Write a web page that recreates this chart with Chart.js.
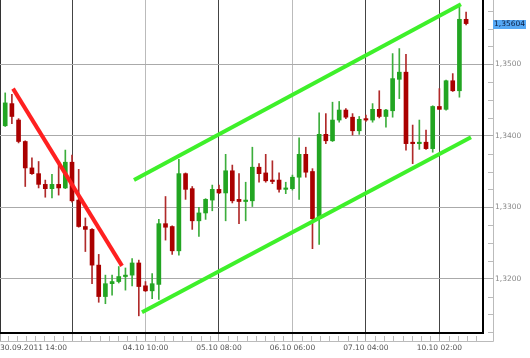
<!DOCTYPE html>
<html>
<head>
<meta charset="utf-8">
<script src="https://cdn.jsdelivr.net/npm/chart.js@4.4.1/dist/chart.umd.min.js"></script>
<style>
  html, body { margin: 0; padding: 0; background: #fff; }
  #wrap { width: 530px; height: 358px; }
</style>
</head>
<body>
<div id="wrap"><canvas id="chart"></canvas></div>
<script>
// 2h candles, index 0..69
const opens = [
  1.3414, 1.3445, 1.3422, 1.3392, 1.3355, 1.3347, 1.3332, 1.3326, 1.3332, 1.3327,
  1.3363, 1.3310, 1.3273, 1.3269, 1.3219, 1.3175, 1.3193, 1.3196, 1.3203, 1.3205,
  1.3222, 1.3190, 1.3183, 1.3192, 1.3277, 1.3273, 1.3239, 1.3347, 1.3326, 1.3281,
  1.3292, 1.3310, 1.3325, 1.3320, 1.3351, 1.3311, 1.3308, 1.3309, 1.3356, 1.3348,
  1.3338, 1.3338, 1.3325, 1.3326, 1.3342, 1.3374, 1.3350, 1.3284, 1.3402, 1.3393,
  1.3422, 1.3436, 1.3426, 1.3407, 1.3424, 1.3422, 1.3437, 1.3427, 1.3435, 1.3479,
  1.3489, 1.3391, 1.3389, 1.3391, 1.3382, 1.3441, 1.3437, 1.3477, 1.3463, 1.3563
];
const highs = [
  1.3460, 1.3458, 1.3424, 1.3393, 1.3369, 1.3364, 1.3338, 1.3346, 1.3362, 1.3380,
  1.3373, 1.3353, 1.3285, 1.3270, 1.3234, 1.3205, 1.3205, 1.3217, 1.3215, 1.3228,
  1.3226, 1.3196, 1.3207, 1.3283, 1.3315, 1.3274, 1.3367, 1.3348, 1.3329, 1.3300,
  1.3312, 1.3331, 1.3331, 1.3374, 1.3359, 1.3347, 1.3335, 1.3384, 1.3361, 1.3374,
  1.3365, 1.3348, 1.3335, 1.3345, 1.3397, 1.3384, 1.3354, 1.3432, 1.3431, 1.3447,
  1.3448, 1.3438, 1.3431, 1.3427, 1.3429, 1.3445, 1.3463, 1.3437, 1.3515, 1.3522,
  1.3514, 1.3415, 1.3422, 1.3408, 1.3442, 1.3466, 1.3478, 1.3487, 1.3580, 1.3573
];
const lows = [
  1.3413, 1.3417, 1.3390, 1.3329, 1.3346, 1.3327, 1.3314, 1.3313, 1.3317, 1.3326,
  1.3307, 1.3272, 1.3238, 1.3193, 1.3167, 1.3165, 1.3177, 1.3194, 1.3184, 1.3190,
  1.3148, 1.3182, 1.3172, 1.3171, 1.3254, 1.3234, 1.3233, 1.3311, 1.3269, 1.3259,
  1.3283, 1.3295, 1.3319, 1.3281, 1.3306, 1.3277, 1.3281, 1.3301, 1.3335, 1.3335,
  1.3333, 1.3321, 1.3319, 1.3324, 1.3311, 1.3342, 1.3242, 1.3248, 1.3389, 1.3392,
  1.3419, 1.3424, 1.3401, 1.3402, 1.3420, 1.3419, 1.3425, 1.3412, 1.3426, 1.3452,
  1.3380, 1.3361, 1.3381, 1.3381, 1.3377, 1.3437, 1.3436, 1.3462, 1.3454, 1.3555
];
const closes = [
  1.3446, 1.3427, 1.3392, 1.3355, 1.3347, 1.3332, 1.3326, 1.3332, 1.3327, 1.3363,
  1.3309, 1.3273, 1.3269, 1.3219, 1.3175, 1.3193, 1.3196, 1.3203, 1.3205, 1.3222,
  1.3189, 1.3183, 1.3193, 1.3277, 1.3272, 1.3239, 1.3347, 1.3325, 1.3281, 1.3292,
  1.3311, 1.3325, 1.3320, 1.3351, 1.3309, 1.3308, 1.3310, 1.3356, 1.3347, 1.3337,
  1.3336, 1.3325, 1.3327, 1.3342, 1.3374, 1.3349, 1.3284, 1.3402, 1.3393, 1.3422,
  1.3436, 1.3426, 1.3407, 1.3423, 1.3422, 1.3437, 1.3427, 1.3436, 1.3480, 1.3489,
  1.3389, 1.3389, 1.3391, 1.3382, 1.3441, 1.3437, 1.3477, 1.3463, 1.3563, 1.3557
];
const lastPrice = 1.35604;

// x tick labels at candle index positions
const xLabelPos = [-0.78, 10, 21, 32, 43, 54, 65];
const xLabels = ["30.09.2011 14:00", "", "04.10 10:00", "05.10 08:00", "06.10 06:00", "07.10 04:00", "10.10 02:00"];
const xGridColors = ["#333", "#444", "#bbb", "#444", "#bbb", "#444", "#444"];
const yLabelVals = [1.32, 1.33, 1.34, 1.35];

// trend lines [index, price]
const redTrend = [[1.17, 1.3466], [17.49, 1.3218]];
const upperTrend = [[19.28, 1.3338], [68.23, 1.3584]];
const lowerTrend = [[20.48, 1.3153], [69.73, 1.3398]];

const X_MIN = -0.78, X_MAX = 71.53;
const Y_MIN = 1.3124, Y_MAX = 1.3590;

const GREEN = "#22a522", RED = "#aa0000";
const up = i => closes[i] >= opens[i];

const xTicks = xLabelPos.slice();
for (let j = -8; j <= 46; j++) {
  const v = 10 + j * 1.375;
  if (j % 8 !== 0 && v > X_MIN && v < X_MAX) xTicks.push(v);
}
xTicks.sort((a, b) => a - b);
const yTicks = [];
for (let k = 0; k <= 18; k++) yTicks.push(Math.round((1.3125 + k * 0.0025) * 10000) / 10000);
const isMajorY = v => yLabelVals.some(m => Math.abs(m - v) < 1e-7);

const wickData = highs.map((h, i) => ({ x: i, y: [lows[i], h] }));
const bodyData = opens.map((o, i) => ({ x: i, y: [o, closes[i]] }));
const pts = arr => arr.map(p => ({ x: p[0], y: p[1] }));

const framePlugin = {
  id: "frame",
  afterDraw(chart) {
    const ctx = chart.ctx, a = chart.chartArea;
    const xs = chart.scales.x, ys = chart.scales.y;
    ctx.save();
    ctx.strokeStyle = "#bbb";
    ctx.lineWidth = 1;
    ctx.beginPath();
    ctx.moveTo(0, a.bottom + 8.5); ctx.lineTo(a.right + 10.5, a.bottom + 8.5);
    ctx.moveTo(a.right + 10.5, 0); ctx.lineTo(a.right + 10.5, a.bottom + 8.5);
    xTicks.forEach(v => {
      if (xLabelPos.indexOf(v) >= 0) return;
      const px = Math.round(xs.getPixelForValue(v)) + 0.5;
      ctx.moveTo(px, a.bottom + 3); ctx.lineTo(px, a.bottom + 8);
    });
    yTicks.forEach(v => {
      if (isMajorY(v)) return;
      const py = Math.round(ys.getPixelForValue(v)) + 0.5;
      ctx.moveTo(a.right + 5, py); ctx.lineTo(a.right + 10, py);
    });
    ctx.stroke();
    // current price tag
    const py = Math.round(ys.getPixelForValue(closes[closes.length - 1]));
    ctx.fillStyle = "#55a8f5";
    ctx.fillRect(a.right + 10, py - 4, 33, 9);
    ctx.fillStyle = "#0b1f44";
    ctx.font = '7.5px "DejaVu Sans"';
    ctx.textBaseline = "middle";
    ctx.fillText(lastPrice.toFixed(5).replace(".", ","), a.right + 11, py + 0.5);
    ctx.restore();
  }
};

new Chart(document.getElementById("chart"), {
  type: "bar",
  data: {
    datasets: [
      {
        type: "line", data: pts(redTrend), borderColor: "#ff2020", borderWidth: 4,
        pointRadius: 0, order: 0
      },
      {
        type: "line", data: pts(upperTrend), borderColor: "#3ef02a", borderWidth: 4,
        pointRadius: 0, order: 0
      },
      {
        type: "line", data: pts(lowerTrend), borderColor: "#3ef02a", borderWidth: 4,
        pointRadius: 0, order: 0
      },
      {
        data: bodyData, barThickness: 4, grouped: false, order: 1,
        backgroundColor: ctx => up(ctx.dataIndex) ? GREEN : RED
      },
      {
        data: wickData, barThickness: 1, grouped: false, order: 2,
        backgroundColor: ctx => up(ctx.dataIndex) ? "#3cae3c" : "#b02a2a"
      }
    ]
  },
  options: {
    responsive: true,
    maintainAspectRatio: false,
    animation: false,
    layout: { padding: 0 },
    plugins: { legend: { display: false }, tooltip: { enabled: false } },
    scales: {
      x: {
        type: "linear", min: X_MIN, max: X_MAX, offset: false,
        afterBuildTicks: s => { s.ticks = xTicks.map(v => ({ value: v })); },
        afterFit: s => { s.height = 25; s.paddingLeft = 0; s.paddingRight = 0; },
        grid: {
          offset: false,
          color: c => {
            const k = c.tick ? xLabelPos.indexOf(c.tick.value) : -1;
            return k < 0 ? "rgba(0,0,0,0)" : xGridColors[k];
          },
          tickColor: c => {
            const k = c.tick ? xLabelPos.indexOf(c.tick.value) : -1;
            return k < 0 ? "rgba(0,0,0,0)" : "#aaa";
          },
          tickLength: 8
        },
        border: { color: "#000", width: 2 },
        ticks: {
          autoSkip: false, maxRotation: 0, minRotation: 0, align: "inner", padding: 3,
          color: "#555", font: { family: "DejaVu Sans", size: 7.5 },
          callback: v => {
            const k = xLabelPos.indexOf(v);
            return k < 0 ? "" : xLabels[k];
          }
        }
      },
      y: {
        type: "linear", position: "right", min: Y_MIN, max: Y_MAX,
        afterBuildTicks: s => { s.ticks = yTicks.map(v => ({ value: v })); },
        afterFit: s => { s.width = 47; s.paddingTop = 0; s.paddingBottom = 0; },
        grid: {
          color: c => (c.tick && isMajorY(c.tick.value)) ? "#aaa" : "rgba(0,0,0,0)",
          tickColor: c => (c.tick && isMajorY(c.tick.value)) ? "#aaa" : "rgba(0,0,0,0)",
          tickLength: 10
        },
        border: { color: "#000", width: 2 },
        ticks: {
          padding: 2, color: "#888", font: { family: "DejaVu Sans", size: 7.5 },
          callback: v => isMajorY(v) ? v.toFixed(4).replace(".", ",") : ""
        }
      }
    }
  },
  plugins: [framePlugin]
});
</script>
</body>
</html>
